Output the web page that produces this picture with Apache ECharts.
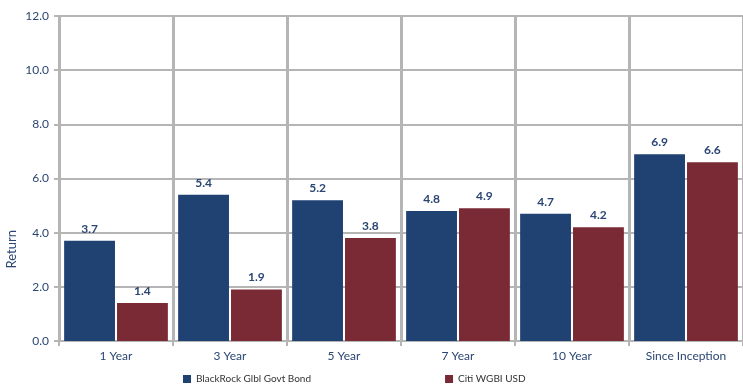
<!DOCTYPE html>
<html>
<head>
<meta charset="utf-8">
<script src="https://cdn.jsdelivr.net/npm/echarts@6/dist/echarts.min.js"></script>
<style>
  html, body { margin: 0; padding: 0; background: #fff; }
  #main { width: 743px; height: 391px; }
</style>
</head>
<body>
<div id="main"></div>
<script>
var categories = ['1 Year', '3 Year', '5 Year', '7 Year', '10 Year', 'Since Inception'];
var blackrock = [3.7, 5.4, 5.2, 4.8, 4.7, 6.9];
var citi = [1.4, 1.9, 3.8, 4.9, 4.2, 6.6];
var seriesNames = ['BlackRock Glbl Govt Bond', 'Citi WGBI USD'];

var textBlue = '#2b4673';
var gridGray = '#b5b5b5';
var font = 'Lato';

var chartDom = document.getElementById('main');
var myChart = echarts.init(chartDom);
var option;
option = {
	animation: false,
	textStyle: { fontFamily: font },
	grid: {
		left: 59,
		right: -4,
		top: 16,
		bottom: 50
	},
	legend: {
		data: seriesNames,
		bottom: 2,
		left: 178,
		itemWidth: 8,
		itemHeight: 8,
		itemGap: 134,
		icon: 'rect',
		textStyle: { color: '#333', fontSize: 10, fontFamily: font }
	},
	graphic: [{
		type: 'text',
		left: 5,
		top: 230,
		rotation: Math.PI / 2,
		style: { text: 'Return', fill: textBlue, font: '13px ' + font }
	}],
	xAxis: {
		type: 'category',
		data: categories,
		axisLine: { lineStyle: { color: gridGray, width: 2 } },
		axisTick: { show: true, length: 5, lineStyle: { color: gridGray, width: 2 } },
		splitLine: { show: true, lineStyle: { color: gridGray, width: 3 } },
		axisLabel: { color: textBlue, fontSize: 12, margin: 9 }
	},
	yAxis: {
		type: 'value',
		min: 0,
		max: 12,
		interval: 2,
		axisLine: { show: true, lineStyle: { color: gridGray, width: 2 } },
		axisTick: { show: true, length: 5, lineStyle: { color: gridGray, width: 2 } },
		splitLine: { lineStyle: { color: gridGray, width: 2 } },
		axisLabel: {
			color: textBlue,
			fontSize: 12,
			margin: 10,
			formatter: function (v) { return v.toFixed(1); }
		}
	},
	series: [{
			name: seriesNames[0],
			type: 'bar',
			data: blackrock,
			barGap: '4%',
			barCategoryGap: '9%',
			itemStyle: { color: '#1f4273' },
			label: {
				show: true,
				position: 'top',
				distance: 6,
				color: textBlue,
				fontWeight: 'bold',
				fontSize: 12,
				formatter: function (p) { return p.value.toFixed(1); }
			}
		},
		{
			name: seriesNames[1],
			type: 'bar',
			data: citi,
			itemStyle: { color: '#7a2a35' },
			label: {
				show: true,
				position: 'top',
				distance: 6,
				color: textBlue,
				fontWeight: 'bold',
				fontSize: 12,
				formatter: function (p) { return p.value.toFixed(1); }
			}
		}
	]
};
option && myChart.setOption(option);
</script>
</body>
</html>
